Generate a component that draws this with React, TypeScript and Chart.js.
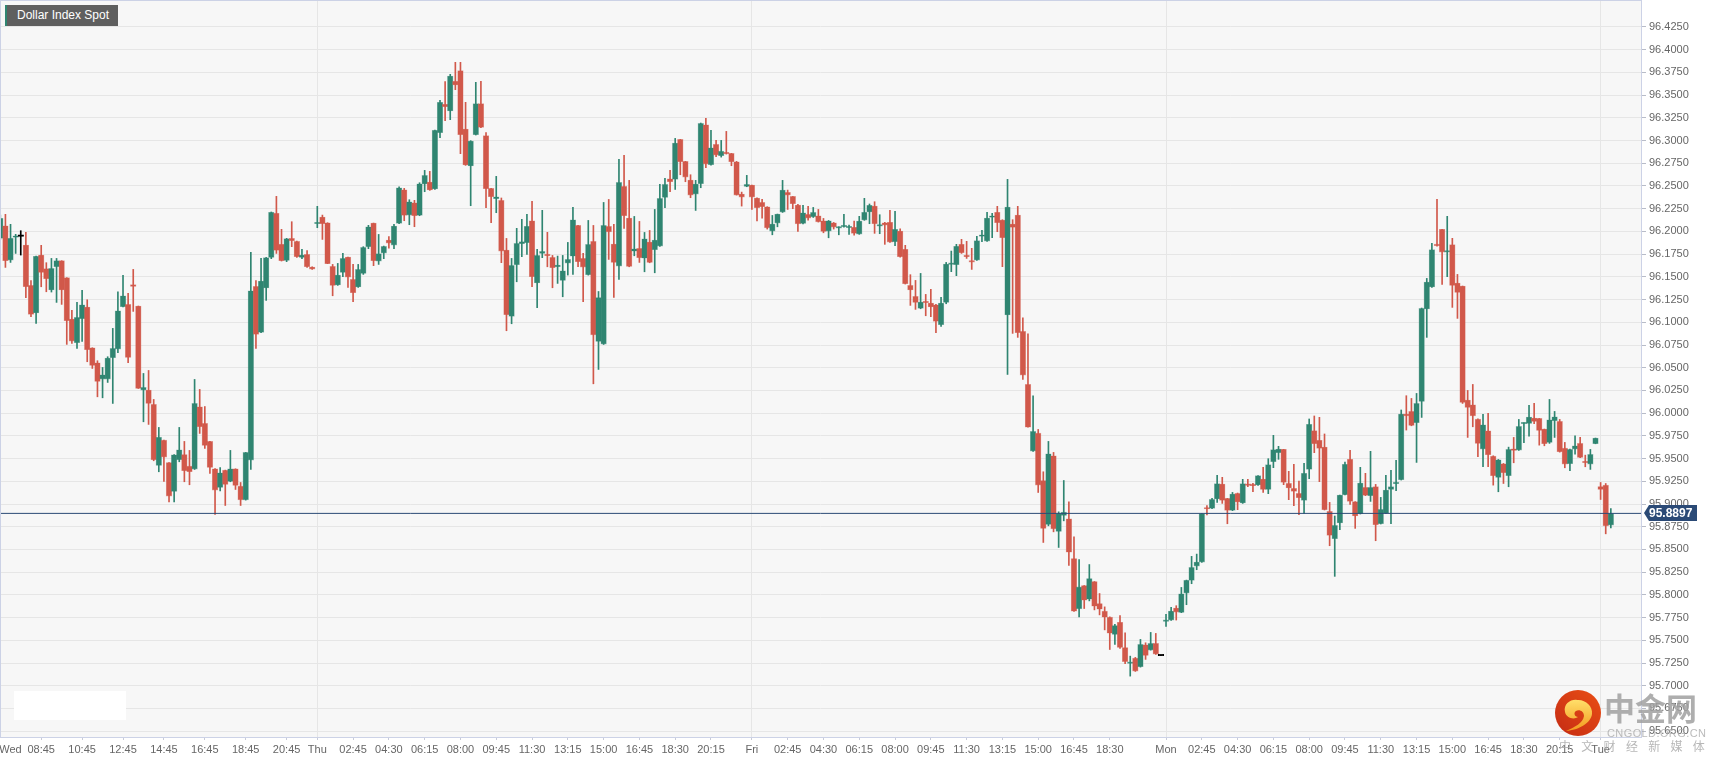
import React, { useEffect, useRef } from "react";
import { Chart, registerables } from "chart.js";

Chart.register(...registerables);

const opens = [
96.1924,96.2063,96.1685,96.1935,96.1949,96.1850,96.1406,96.1102,96.1740,96.1590,
96.1355,96.1612,96.1678,96.1491,96.1036,96.0775,96.1039,96.1168,96.0720,96.0555,
96.0375,96.0375,96.0610,96.0705,96.1171,96.1197,96.1414,96.1179,96.0254,96.0254,
96.0096,95.9424,95.9703,95.9457,95.9138,95.9487,95.9545,95.9417,95.9384,96.0070,
95.9887,95.9689,95.9388,95.9182,95.9373,95.9248,95.9388,95.9197,95.9046,95.9483,
96.1395,96.0889,96.1377,96.1714,96.2199,96.1858,96.1681,96.1923,96.1890,96.1714,
96.1747,96.1608,96.2085,96.2158,96.2096,96.1615,96.1410,96.1549,96.1718,96.1472,
96.1388,96.1538,96.1832,96.2092,96.1674,96.1762,96.1905,96.1850,96.2089,96.2459,
96.2180,96.2316,96.2177,96.2522,96.2544,96.2467,96.3087,96.3399,96.3325,96.3652,
96.3769,96.3127,96.2720,96.3065,96.3406,96.3054,96.2474,96.2360,96.2342,96.1795,
96.1065,96.1634,96.1865,96.1876,96.2118,96.1432,96.1758,96.1740,96.1714,96.1611,
96.1461,96.1652,96.1728,96.2066,96.1703,96.1523,96.1890,96.0789,96.0760,96.2055,
96.1861,96.1618,96.2495,96.2147,96.1783,96.1813,96.1706,96.1883,96.1798,96.1839,
96.2374,96.2580,96.2573,96.3013,96.2771,96.2565,96.2411,96.2525,96.3174,96.2734,
96.2958,96.2833,96.2870,96.2859,96.2767,96.2411,96.2495,96.2510,96.2367,96.2319,
96.2272,96.2004,96.2092,96.2213,96.2429,96.2385,96.2290,96.2088,96.2187,96.2161,
96.2173,96.2117,96.2004,96.2095,96.2037,96.2052,96.2041,96.2045,96.1971,96.2125,
96.2214,96.2280,96.2059,96.2096,96.2100,96.1887,96.2004,96.1803,96.1406,96.1285,
96.1153,96.1230,96.1212,96.1193,96.0973,96.1219,96.1637,96.1634,96.1858,96.1729,
96.1670,96.1685,96.1946,96.1894,96.2155,96.2210,96.2125,96.1080,96.2081,96.2181,
96.0900,96.0316,95.9582,95.9780,95.9259,95.8775,95.9531,95.8698,95.8874,95.8837,
95.8400,95.7846,95.8103,95.7953,95.8147,95.7905,95.7821,95.7755,95.7564,95.7699,
95.7421,95.7246,95.7304,95.7209,95.7451,95.7392,95.7466,95.7336,95.7708,95.7723,
95.7855,95.7807,95.8020,95.8160,95.8317,95.8361,95.8956,95.8952,95.9055,95.9220,
95.9062,95.8930,95.9117,95.9011,95.9216,95.9213,95.9209,95.9275,95.9161,95.9466,
95.9565,95.9602,95.9227,95.9172,95.9117,95.9040,95.9382,95.9807,95.9701,95.9628,
95.8919,95.8618,95.8791,95.9103,95.9492,95.9026,95.8894,95.9183,95.9092,95.9191,
95.8783,95.8897,95.9161,95.9224,95.9268,95.9990,96.0019,95.9894,96.0129,96.1146,
96.1388,96.1854,96.2023,96.1773,96.1854,96.1432,96.1399,96.0144,96.0093,95.9934,
95.9604,95.9806,95.9527,95.9292,95.9443,95.9311,95.9608,95.9593,95.9883,95.9887,
95.9946,95.9942,95.9825,95.9678,95.9916,95.9909,95.9615,95.9443,95.9604,95.9667,
95.9465,95.9439,95.9663,95.9193,95.9208,95.8768];

const closes = [
96.2144,96.1678,96.1924,96.1946,96.1946,96.1391,96.1087,96.1726,96.1549,96.1480,
96.1593,96.1678,96.1355,96.1017,96.0793,96.1054,96.1193,96.0698,96.0525,96.0349,
96.0423,96.0606,96.0713,96.1127,96.1292,96.0613,96.1395,96.0272,96.0283,96.0107,
95.9487,95.9736,95.9516,95.9087,95.9542,95.9597,95.9366,95.9355,96.0107,95.9850,
95.9645,95.9402,95.9153,95.9344,95.9215,95.9388,95.9204,95.9046,95.9568,96.1347,
96.0867,96.1454,96.1711,96.2210,96.1792,96.1678,96.1920,96.1898,96.1722,96.1740,
96.1611,96.1586,96.2096,96.2085,96.1645,96.1406,96.1520,96.1703,96.1498,96.1325,
96.1582,96.1824,96.2052,96.1678,96.1755,96.1835,96.1872,96.2059,96.2481,96.2177,
96.2327,96.2173,96.2525,96.2617,96.2456,96.3113,96.3421,96.3373,96.3711,96.3612,
96.3065,96.2731,96.2995,96.3406,96.3146,96.2470,96.2382,96.2382,96.1784,96.1083,
96.1626,96.1868,96.1887,96.2056,96.1501,96.1736,96.1780,96.1733,96.1600,96.1630,
96.1567,96.1692,96.2128,96.1666,96.1607,96.1857,96.0862,96.1273,96.2066,96.1996,
96.1659,96.2540,96.2173,96.1615,96.1809,96.1710,96.1919,96.1659,96.1905,96.2363,
96.2517,96.2547,96.2973,96.2767,96.2598,96.2400,96.2521,96.3189,96.2741,96.2921,
96.2840,96.2884,96.2855,96.2767,96.2400,96.2378,96.2517,96.2378,96.2261,96.2272,
96.2040,96.2081,96.2191,96.2455,96.2400,96.2305,96.2084,96.2206,96.2147,96.2209,
96.2106,96.2000,96.2117,96.2048,96.2044,96.2067,96.2048,96.1979,96.2114,96.2210,
96.2287,96.2085,96.2070,96.2070,96.1883,96.2023,96.1722,96.1425,96.1355,96.1219,
96.1223,96.1215,96.1168,96.1010,96.1212,96.1641,96.1648,96.1836,96.1766,96.1722,
96.1663,96.1898,96.1953,96.2148,96.2166,96.2096,96.1931,96.2269,96.2045,96.0885,
96.0419,95.9846,95.9799,95.9208,95.8731,95.9553,95.8727,95.8896,95.8911,95.8470,
95.7821,95.8088,95.7942,95.8180,95.7876,95.7843,95.7755,95.7578,95.7663,95.7421,
95.7266,95.7257,95.7161,95.7455,95.7334,95.7466,95.7348,95.7330,95.7715,95.7822,
95.7811,95.8013,95.8160,95.8303,95.8361,95.8894,95.8945,95.9051,95.9224,95.9040,
95.8930,95.9110,95.9022,95.9224,95.9205,95.9202,95.9312,95.9161,95.9433,95.9598,
95.9606,95.9239,95.9176,95.9139,95.9070,95.9338,95.9877,95.9664,95.9613,95.8938,
95.8655,95.8765,95.9099,95.9437,95.9029,95.8868,95.9231,95.9095,95.9183,95.8772,
95.8941,95.9154,95.9191,95.9231,95.9991,95.9971,95.9865,96.0107,96.1153,96.1443,
96.1799,96.1843,96.1773,96.1784,96.1406,96.1329,96.0118,96.0063,95.9971,95.9667,
95.9872,95.9542,95.9311,95.9487,95.9344,95.9601,95.9590,95.9854,95.9891,95.9957,
95.9909,95.9810,95.9663,95.9927,95.9960,95.9575,95.9439,95.9601,95.9641,95.9513,
95.9454,95.9546,95.9726,95.9160,95.8760,95.8896];

const highs = [
96.2181,96.2188,96.2078,96.1968,96.2008,96.1990,96.1458,96.1729,96.1847,96.1656,
96.1703,96.1703,96.1678,96.1491,96.1131,96.1219,96.1351,96.1248,96.0720,96.0577,
96.0503,96.0621,96.0933,96.1336,96.1516,96.1318,96.1582,96.1179,96.0437,96.0470,
96.0151,95.9843,95.9703,95.9457,95.9545,95.9843,95.9689,95.9590,96.0371,96.0261,
96.0073,95.9689,95.9391,95.9402,95.9373,95.9590,95.9388,95.9237,95.9568,96.1770,
96.1458,96.1703,96.1714,96.2214,96.2386,96.2023,96.1924,96.2107,96.1894,96.1802,
96.1788,96.1611,96.2276,96.2180,96.2096,96.1637,96.1648,96.1758,96.1718,96.1637,
96.1637,96.1832,96.2067,96.2092,96.1967,96.1839,96.1942,96.2078,96.2492,96.2474,
96.2349,96.2342,96.2536,96.2672,96.2661,96.3116,96.3443,96.3648,96.3729,96.3861,
96.3861,96.3421,96.2999,96.3641,96.3652,96.3087,96.2474,96.2606,96.2368,96.1923,
96.1703,96.2034,96.2133,96.2188,96.2331,96.1802,96.2232,96.1990,96.1736,96.1729,
96.1736,96.1879,96.2264,96.2066,96.1758,96.2121,96.2066,96.1339,96.2319,96.2352,
96.2077,96.2793,96.2837,96.2562,96.2165,96.2110,96.1989,96.2011,96.2242,96.2517,
96.2584,96.2672,96.3024,96.3013,96.2771,96.2624,96.2562,96.3193,96.3244,96.3112,
96.3002,96.3002,96.3101,96.2859,96.2771,96.2433,96.2617,96.2510,96.2371,96.2352,
96.2272,96.2176,96.2191,96.2562,96.2455,96.2385,96.2297,96.2286,96.2275,96.2264,
96.2242,96.2143,96.2121,96.2099,96.2051,96.2188,96.2070,96.2114,96.2166,96.2364,
96.2302,96.2327,96.2184,96.2100,96.2232,96.2221,96.2030,96.1847,96.1524,96.1461,
96.1538,96.1307,96.1362,96.1197,96.1274,96.1659,96.1784,96.1858,96.1913,96.1891,
96.1814,96.1946,96.2012,96.2210,96.2199,96.2276,96.2129,96.2573,96.2129,96.2276,
96.1050,96.0874,96.0191,95.9821,95.9355,95.9689,95.9568,95.8914,95.9259,95.9024,
95.8639,95.8389,95.8103,95.8334,95.8147,95.8015,95.7868,95.7758,95.7677,95.7773,
95.7582,95.7326,95.7312,95.7510,95.7473,95.7587,95.7576,95.7336,95.7785,95.7862,
95.7881,95.8082,95.8163,95.8424,95.8449,95.8894,95.8982,95.9062,95.9316,95.9294,
95.9062,95.9128,95.9121,95.9272,95.9272,95.9227,95.9312,95.9404,95.9499,95.9756,
95.9635,95.9602,95.9360,95.9437,95.9253,95.9448,95.9936,95.9969,95.9954,95.9771,
95.9018,95.8868,95.9099,95.9462,95.9591,95.9026,95.9404,95.9338,95.9580,95.9216,
95.9073,95.9316,95.9371,95.9481,96.0035,96.0192,96.0162,96.0217,96.1157,96.1483,
96.1869,96.2353,96.2023,96.2166,96.1924,96.1527,96.1399,96.0250,96.0316,95.9938,
95.9986,95.9997,95.9531,95.9491,95.9447,95.9626,95.9733,95.9931,95.9894,96.0085,
96.0107,95.9942,95.9825,96.0151,96.0019,95.9931,95.9678,95.9604,95.9751,95.9733,
95.9538,95.9601,95.9726,95.9237,95.9226,95.8951];

const lows = [
96.1913,96.1604,96.1659,96.1758,96.1740,96.1270,96.1061,96.0988,96.1391,96.1336,
96.1333,96.1219,96.1197,96.0757,96.0768,96.0713,96.0790,96.0566,96.0492,96.0180,
96.0169,96.0338,96.0107,96.0665,96.1168,96.0555,96.1120,96.0272,95.9905,95.9876,
95.9476,95.9355,95.9248,95.9024,95.9024,95.9465,95.9245,95.9212,95.9380,95.9777,
95.9612,95.9336,95.8885,95.9145,95.8984,95.9245,95.9160,95.8984,95.9043,95.9380,
96.0713,96.0885,96.1241,96.1700,96.1758,96.1674,96.1667,96.1832,96.1714,96.1700,
96.1604,96.1582,96.2041,96.1912,96.1645,96.1292,96.1406,96.1501,96.1384,96.1226,
96.1384,96.1527,96.1810,96.1623,96.1637,96.1700,96.1817,96.1810,96.2085,96.2118,
96.2074,96.2052,96.2173,96.2437,96.2452,96.2463,96.3032,96.3219,96.3230,96.3560,
96.2856,96.2727,96.2283,96.3061,96.3142,96.2261,96.2096,96.2206,96.1656,96.0907,
96.0984,96.1446,96.1722,96.1747,96.1391,96.1160,96.1711,96.1611,96.1380,96.1428,
96.1281,96.1520,96.1527,96.1611,96.1226,96.1519,96.0323,96.0481,96.0756,96.1692,
96.1273,96.1472,96.2033,96.1611,96.1732,96.1659,96.1556,96.1655,96.1545,96.1835,
96.2261,96.2437,96.2462,96.2624,96.2547,96.2371,96.2231,96.2481,96.2701,96.2730,
96.2822,96.2818,96.2851,96.2723,96.2400,96.2279,96.2492,96.2242,96.2117,96.2147,
96.2026,96.1963,96.2051,96.2209,96.2242,96.2250,96.2000,96.2084,96.2125,96.2154,
96.2103,96.1985,96.1930,96.2026,96.1963,96.2048,96.1968,96.1960,96.1968,96.2122,
96.2085,96.1979,96.1975,96.1858,96.1880,96.1843,96.1718,96.1421,96.1186,96.1142,
96.1149,96.1072,96.1061,96.0885,96.0955,96.1204,96.1557,96.1513,96.1758,96.1703,
96.1582,96.1681,96.1887,96.1891,96.1931,96.1997,96.1612,96.0426,96.0878,96.0834,
96.0371,95.9846,95.9579,95.9127,95.8577,95.8760,95.8694,95.8522,95.8815,95.8323,
95.7817,95.7758,95.7850,95.7934,95.7835,95.7780,95.7615,95.7399,95.7454,95.7410,
95.7244,95.7106,95.7158,95.7205,95.7290,95.7392,95.7345,95.7330,95.7653,95.7719,
95.7723,95.7804,95.7892,95.8123,95.8277,95.8358,95.8879,95.8949,95.9018,95.9007,
95.8783,95.8927,95.8938,95.9007,95.9191,95.9136,95.9205,95.9128,95.9114,95.9400,
95.9492,95.9213,95.9048,95.8982,95.8883,95.8897,95.9279,95.9565,95.9246,95.8934,
95.8541,95.8204,95.8717,95.9099,95.8996,95.8732,95.8890,95.9092,95.9029,95.8596,
95.8780,95.8894,95.8783,95.9147,95.9264,95.9814,95.9861,95.9458,95.9953,96.0834,
96.1384,96.1839,96.1417,96.1502,96.1164,96.1043,96.0107,95.9733,95.9850,95.9520,
95.9410,95.9410,95.9208,95.9135,95.9226,95.9190,95.9454,95.9590,95.9674,95.9748,
95.9883,95.9648,95.9641,95.9667,95.9733,95.9571,95.9399,95.9366,95.9549,95.9509,
95.9410,95.9381,95.9663,95.9050,95.8672,95.8738];

// Bars drawn in black in the reference (the cursor cross and the last doji of the session)
const blackBars = [4, 227];

const lastPrice = 95.8897;

const xTickIndexes = [
  2, 8, 16, 24, 32, 40, 48, 56, 62, 69, 76, 83, 90, 97, 104, 111, 118, 125, 132, 139,
  147, 154, 161, 168, 175, 182, 189, 196, 203, 210, 217, 228, 235, 242, 249, 256,
  263, 270, 277, 284, 291, 298, 305, 313,
];
const xTickLabels = [
  "Wed", "08:45", "10:45", "12:45", "14:45", "16:45", "18:45", "20:45", "Thu",
  "02:45", "04:30", "06:15", "08:00", "09:45", "11:30", "13:15", "15:00", "16:45", "18:30", "20:15",
  "Fri", "02:45", "04:30", "06:15", "08:00", "09:45", "11:30", "13:15", "15:00", "16:45", "18:30",
  "Mon", "02:45", "04:30", "06:15", "08:00", "09:45", "11:30", "13:15", "15:00", "16:45", "18:30", "20:15", "Tue",
];
const dayLabels = ["Thu", "Fri", "Mon", "Tue"];

const yTickValues = [
  95.65, 95.675, 95.7, 95.725, 95.75, 95.775, 95.8, 95.825, 95.85, 95.875, 95.9, 95.925, 95.95,
  95.975, 96, 96.025, 96.05, 96.075, 96.1, 96.125, 96.15, 96.175, 96.2, 96.225, 96.25, 96.275,
  96.3, 96.325, 96.35, 96.375, 96.4, 96.425,
];

const GREEN = "#2f8571";
const RED = "#d1584a";
const GREEN_EDGE = "rgba(47,133,113,0.5)";
const RED_EDGE = "rgba(209,88,74,0.55)";
const FRAME = "#ccd2e6";
const GRID = "#e6e6e6";
const TEXT = "#666666";
const FONT = '"Liberation Sans", Arial, sans-serif';

const colorOf = (i: number) =>
  blackBars.includes(i) ? "#000000" : closes[i] >= opens[i] ? GREEN : RED;
const edgeOf = (i: number) =>
  blackBars.includes(i) ? "#000000" : closes[i] >= opens[i] ? GREEN_EDGE : RED_EDGE;

const framePlugin = {
  id: "frame",
  beforeDraw(chart: any) {
    const { ctx, chartArea: a } = chart;
    ctx.save();
    ctx.fillStyle = "#f7f7f7";
    ctx.fillRect(a.left, a.top, a.right - a.left, a.bottom - a.top);
    ctx.restore();
  },
  afterDraw(chart: any) {
    const { ctx, chartArea: a, scales } = chart;
    ctx.save();
    ctx.strokeStyle = FRAME;
    ctx.lineWidth = 1;
    ctx.strokeRect(a.left + 0.5, a.top - 0.5, a.right - a.left, a.bottom - a.top + 1);
    // last price tag
    const y = Math.round(scales.y.getPixelForValue(lastPrice));
    const x0 = a.right + 3;
    ctx.fillStyle = "#2b4a76";
    ctx.beginPath();
    ctx.moveTo(x0, y);
    ctx.lineTo(x0 + 5, y - 8);
    ctx.lineTo(1697, y - 8);
    ctx.lineTo(1697, y + 8);
    ctx.lineTo(x0 + 5, y + 8);
    ctx.closePath();
    ctx.fill();
    ctx.fillStyle = "#ffffff";
    ctx.font = `bold 12px ${FONT}`;
    ctx.textAlign = "left";
    ctx.textBaseline = "middle";
    ctx.fillText(lastPrice.toFixed(4), 1649, y + 0.5);
    ctx.restore();
  },
};

export default function App() {
  const ref = useRef<HTMLCanvasElement>(null);

  useEffect(() => {
    document.body.style.margin = "0";
    const canvas = ref.current!;
    const idx = opens.map((_, i) => i);
    const chart = new Chart(canvas, {
      type: "bar",
      data: {
        datasets: [
          {
            type: "line",
            data: [
              { x: -0.06, y: lastPrice },
              { x: 320.9, y: lastPrice },
            ],
            borderColor: "#2b4a76",
            borderWidth: 1,
            pointRadius: 0,
            pointHoverRadius: 0,
            pointBorderWidth: 0,
            pointHoverBorderWidth: 0,
            order: 0,
          },
          {
            data: idx.map((i) => ({ x: i, y: [opens[i], closes[i]] })),
            backgroundColor: idx.map(colorOf),
            borderColor: idx.map(edgeOf),
            borderWidth: 0.6,
            borderSkipped: false,
            barThickness: 5.6,
            minBarLength: 1.5,
            grouped: false,
            order: 1,
          },
          {
            data: idx.map((i) => ({ x: i, y: [lows[i], highs[i]] })),
            backgroundColor: idx.map(colorOf),
            borderWidth: 0,
            barThickness: 1,
            grouped: false,
            order: 2,
          },
        ] as any,
      },
      options: {
        responsive: false,
        animation: false,
        layout: { autoPadding: false, padding: { top: 1 } },
        plugins: { legend: { display: false }, tooltip: { enabled: false } },
        scales: {
          x: {
            type: "linear",
            offset: false,
            min: -0.06,
            max: 320.9,
            afterFit(s: any) {
              s.height = 26;
              s.paddingLeft = 0;
              s.paddingRight = 0;
            },
            afterBuildTicks(s: any) {
              s.ticks = xTickIndexes.map((value) => ({ value }));
            },
            border: { display: false },
            grid: {
              offset: false,
              color: (c: any) =>
                dayLabels.includes(xTickLabels[xTickIndexes.indexOf(c.tick?.value)]) ? GRID : "rgba(0,0,0,0)",
              tickColor: (c: any) => (c.tick?.value === xTickIndexes[0] ? "rgba(0,0,0,0)" : "#c8cbd8"),
              tickLength: 3,
            },
            ticks: {
              autoSkip: false,
              maxRotation: 0,
              minRotation: 0,
              padding: 3,
              color: TEXT,
              font: { family: FONT, size: 11 },
              callback: (v: any) => xTickLabels[xTickIndexes.indexOf(v)] ?? "",
            },
          },
          y: {
            position: "right",
            min: 95.6436,
            max: 96.4536,
            afterFit(s: any) {
              s.width = 71;
              s.paddingTop = 0;
              s.paddingBottom = 0;
            },
            afterBuildTicks(s: any) {
              s.ticks = yTickValues.map((value) => ({ value }));
            },
            border: { display: false },
            grid: { color: GRID, tickColor: "#b8bcc8", tickLength: 5 },
            ticks: {
              autoSkip: false,
              padding: 3,
              color: TEXT,
              font: { family: FONT, size: 11 },
              callback: (v: any) => Number(v).toFixed(4),
            },
          },
        },
      } as any,
      plugins: [framePlugin],
    });
    return () => chart.destroy();
  }, []);

  return (
    <div style={{ position: "relative", width: 1712, height: 763, overflow: "hidden", background: "#fff" }}>
      <canvas ref={ref} width={1712} height={763} style={{ display: "block" }} />
      <div
        style={{
          position: "absolute", left: 5, top: 5, width: 113, height: 21, boxSizing: "border-box",
          background: "#5f5f5f", borderLeft: "2px solid #2f8571", color: "#fff",
          font: `12px ${FONT}`, lineHeight: "21px", paddingLeft: 10, whiteSpace: "nowrap",
        }}
      >
        Dollar Index Spot
      </div>
      <div style={{ position: "absolute", left: 14, top: 691, width: 112, height: 29, background: "#fff" }} />
      <svg style={{ position: "absolute", left: 1555, top: 690 }} width={46} height={46} viewBox="0 0 46 46">
        <defs>
          <linearGradient id="lg" x1="1" y1="0" x2="0" y2="1">
            <stop offset="0" stopColor="#ea4f15" />
            <stop offset="1" stopColor="#c42b14" />
          </linearGradient>
          <linearGradient id="ly" x1="0" y1="0" x2="0" y2="1">
            <stop offset="0" stopColor="#ffdf6a" />
            <stop offset="1" stopColor="#f39a1e" />
          </linearGradient>
        </defs>
        <circle cx={23} cy={23} r={23} fill="url(#lg)" />
        <path
          d="M10 22 C8 14 16 9 22 10 C30 9 38 16 37 24 C36 33 24 40 11 41 C20 37 28 33 29 26 C29 21 24 19 21 21 C18 23 20 27 23 27 C19 30 11 28 10 22 Z"
          fill="url(#ly)"
        />
      </svg>
      <div
        style={{
          position: "absolute", left: 1604, top: 689, width: 95, color: "rgba(160,160,160,0.85)",
          font: `bold 31px "Noto Sans CJK SC"`, lineHeight: "36px", whiteSpace: "nowrap",
        }}
      >
        中金网
      </div>
      <div
        style={{
          position: "absolute", left: 1607, top: 727, color: "rgba(170,170,170,0.8)",
          font: `11px ${FONT}`, letterSpacing: 0.4, lineHeight: "13px", whiteSpace: "nowrap",
        }}
      >
        CNGOLD.ORG.CN
      </div>
      <div
        style={{
          position: "absolute", left: 1559, top: 738, color: "rgba(170,170,170,0.85)",
          font: `12px "Noto Sans CJK SC"`, letterSpacing: 10.3, lineHeight: "15px", whiteSpace: "nowrap",
        }}
      >
        中文财经新媒体
      </div>
    </div>
  );
}
